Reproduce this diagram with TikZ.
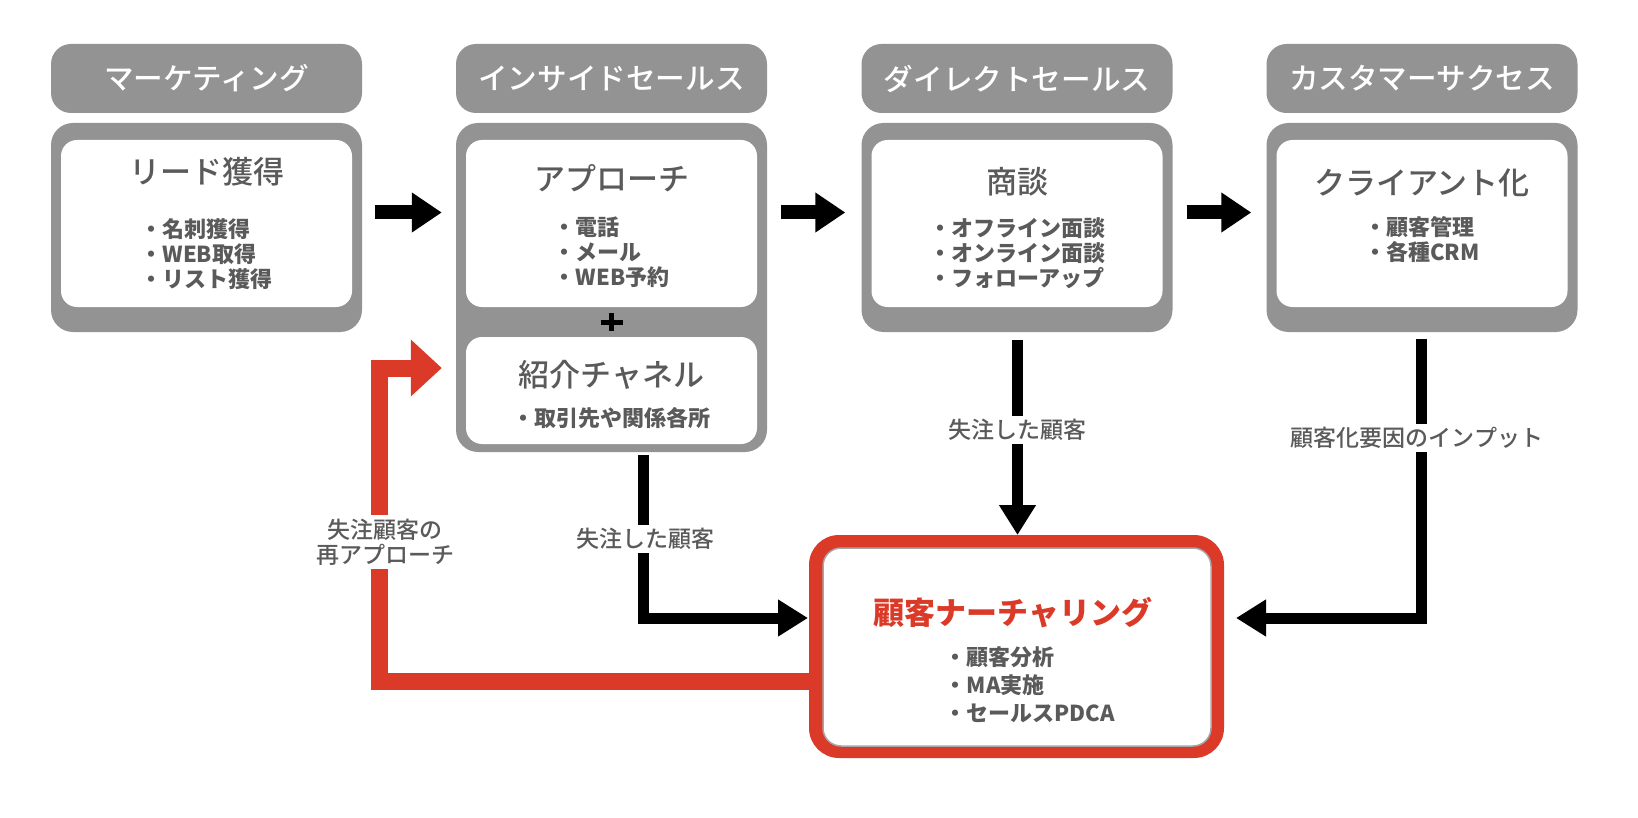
\documentclass[tikz,border=0pt]{standalone}
\usepackage{fontspec}
\setmainfont{Noto Sans CJK JP}
\IfFontExistsTF{Noto Sans CJK JP Medium}{\newfontfamily\medfont{Noto Sans CJK JP Medium}}{\newcommand\medfont{\normalfont}}
\usetikzlibrary{arrows.meta,calc}
\definecolor{boxgray}{HTML}{939393}
\definecolor{txtgray}{HTML}{5A5A5A}
\definecolor{nred}{HTML}{DA3A27}
\begin{document}
\begin{tikzpicture}[x=1pt,y=-1pt,
  header/.style={fill=boxgray, rounded corners=20pt, minimum width=311pt, minimum height=69pt, text=white, font=\medfont\fontsize{29.6}{34}\selectfont, inner sep=0pt},
  outerbox/.style={fill=boxgray, rounded corners=22pt, minimum width=311pt, inner sep=0pt},
  innerbox/.style={fill=white, rounded corners=16pt, minimum width=291pt, inner sep=0pt},
  boxtitle/.style={text=txtgray, font=\medfont\fontsize{31}{34}\selectfont, inner sep=0pt},
  bullets/.style={text=txtgray, font=\bfseries\fontsize{22}{25}\selectfont, align=left, inner sep=0pt},
  lbl/.style={text=txtgray, font=\medfont\fontsize{23}{26}\selectfont, fill=white, inner xsep=1pt, inner ysep=3pt, align=center},
  colarrow/.style={line width=14pt, -{Triangle[length=30pt,width=38pt]}},
  blk/.style={line width=11pt, line join=miter, -{Triangle[length=30pt,width=35pt]}},
  redarrow/.style={draw=nred, line width=17pt, line join=miter, -{Triangle[length=31pt,width=55pt]}}
]
\useasboundingbox (0,0) rectangle (1638,818);
\fill[white] (0,0) rectangle (1638,818);

% headers
\node[header] (h1) at (206.5,78.5) {マーケティング};
\node[header] (h2) at (611.5,78.5) {インサイドセールス};
\node[header] (h3) at (1017,78.5) {ダイレクトセールス};
\node[header] (h4) at (1422,78.5) {カスタマーサクセス};

% outer boxes
\node[outerbox, minimum height=209pt] (c1o) at (206.5,227.5) {};
\node[outerbox, minimum height=329pt] (c2o) at (611.5,287.5) {};
\node[outerbox, minimum height=209pt] (c3o) at (1017,227.5) {};
\node[outerbox, minimum height=209pt] (c4o) at (1422,227.5) {};

% inner boxes
\node[innerbox, minimum height=167pt] (c1i) at (206.5,223.5) {};
\node[innerbox, minimum height=167pt] (c2i) at (611.5,223.5) {};
\node[innerbox, minimum height=107pt] (c2j) at (611.5,390.5) {};
\node[innerbox, minimum height=167pt] (c3i) at (1017,223.5) {};
\node[innerbox, minimum height=167pt] (c4i) at (1422,223.5) {};

% plus sign
\draw[line width=5pt] (600.5,322) -- (622.5,322);
\draw[line width=5pt] (611.5,313) -- (611.5,331);

% texts
\node[boxtitle] (t1) at (206.5,172) {リード獲得};
\node[bullets] (b1) at (206.5,254) {・名刺獲得\\・WEB取得\\・リスト獲得};
\node[boxtitle] (t2) at (611.5,178) {アプローチ};
\node[bullets] (b2) at (611.5,252) {・電話\\・メール\\・WEB予約};
\node[boxtitle] (t2b) at (611.5,375) {紹介チャネル};
\node[bullets] (b2b) at (611.5,418) {・取引先や関係各所};
\node[boxtitle] (t3) at (1017,182) {商談};
\node[bullets] (b3) at (1017,253) {・オフライン面談\\・オンライン面談\\・フォローアップ};
\node[boxtitle] (t4) at (1422,183) {クライアント化};
\node[bullets] (b4) at (1422,240) {・顧客管理\\・各種CRM};

% column arrows
\draw[colarrow] ($(c1o.east)+(13,-15)$) -- ($(c2o.west |- c1o.east)+(-14,-15)$);
\draw[colarrow] ($(c2o.east |- c1o.east)+(14,-15)$) -- ($(c3o.west)+(-16,-15)$);
\draw[colarrow] ($(c3o.east)+(14,-15)$) -- ($(c4o.west)+(-15,-15)$);

% reference points on the nurturing box
\coordinate (nurW) at (809,646.5);
\coordinate (nurE) at (1224,646.5);
\coordinate (nurN) at (1016.5,535);
\coordinate (rc) at (379.5,368);

% connectors to nurturing
\draw[redarrow] ($(nurW)+(0,34.5)$) -| (rc) -- ($(rc -| c2o.west)+(-14,0)$);
\draw[blk] ($(c2o.south)+(31.5,3)$) |- ($(nurW)+(-1,-28.5)$);
\draw[blk] ($(c4o.south)+(-0.5,7)$) |- ($(nurE)+(12,-28.5)$);
\draw[blk] ($(c3o.south)+(0.5,8)$) -- ($(c3o.south |- nurN)+(0.5,0)$);

% nurturing box
\node[fill=nred, rounded corners=30pt, minimum width=415pt, minimum height=223pt, inner sep=0pt] (nur) at (1016.5,646.5) {};
\node[fill=white, draw=black!35, line width=1.5pt, rounded corners=18pt, minimum width=388pt, minimum height=198pt, inner sep=0pt] (nuri) at (1017,647) {};
\node[text=nred, font=\bfseries\fontsize{31}{34}\selectfont, inner sep=0pt] (nt) at (1013,613) {顧客ナーチャリング};
\node[bullets, font=\bfseries\fontsize{22}{28}\selectfont] (nb) at (1030,685) {・顧客分析\\・MA実施\\・セールスPDCA};

% labels
\node[lbl] (l1) at (1017,430) {失注した顧客};
\node[lbl] (l2) at (645,539) {失注した顧客};
\node[lbl] (l3) at (1417,438) {顧客化要因のインプット};
\node[lbl, inner ysep=4pt, font=\medfont\fontsize{23}{25}\selectfont] (l4) at (385,542) {失注顧客の\\再アプローチ};
\end{tikzpicture}
\end{document}
